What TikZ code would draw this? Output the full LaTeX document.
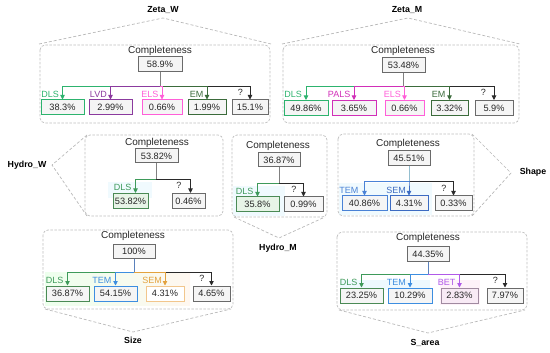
\documentclass[tikz,border=0pt]{standalone}
\usepackage{fontspec}
\setmainfont{Liberation Sans}
\usetikzlibrary{arrows.meta}
\definecolor{cDLS}{HTML}{2DB36E}
\definecolor{cDLSh}{HTML}{3E9A5A}
\definecolor{cDLSb}{HTML}{4A8A55}
\definecolor{cLVD}{HTML}{8B3A9E}
\definecolor{cELS}{HTML}{FF5FD8}
\definecolor{cEM}{HTML}{3B6B3B}
\definecolor{cPALS}{HTML}{D12FB8}
\definecolor{cTEM}{HTML}{4A82D6}
\definecolor{cSEM}{HTML}{3C6BC2}
\definecolor{cTEMs}{HTML}{3D8EE0}
\definecolor{cSEMo}{HTML}{E3A23E}
\definecolor{cSEMob}{HTML}{F2C68C}
\definecolor{cBET}{HTML}{B05AE8}
\definecolor{cBETb}{HTML}{A08AA0}
\definecolor{cQ}{HTML}{2A2A2A}
\definecolor{cQb}{HTML}{6A6A6A}
\definecolor{fGreen}{HTML}{E7F4E7}
\definecolor{fPink}{HTML}{F8EAF5}
\begin{document}
\begin{tikzpicture}[x=1pt,y=-1pt,
  panel/.style={draw=black!25, line width=0.7pt, dash pattern=on 2.5pt off 1.5pt, rounded corners=5pt},
  pointer/.style={draw=black!28, line width=0.7pt, dash pattern=on 3pt off 2pt},
  title/.style={font=\bfseries\fontsize{8.8}{10}\selectfont, inner sep=0},
  comp/.style={font=\fontsize{10}{12}\selectfont, text=black!85, inner sep=0},
  val/.style={draw=#1, fill=black!4, line width=1pt, minimum height=15pt, inner sep=0, font=\fontsize{9.2}{10}\selectfont, text=black!85},
  lab/.style={text=#1, font=\fontsize{9}{10}\selectfont, inner sep=0, anchor=base east},
  conn/.style={draw=#1, line width=0.9pt, -{Triangle[length=4.5pt,width=4.5pt]}},
  stem/.style={draw=black!50, line width=0.9pt}]
\useasboundingbox (0,0) rectangle (550,353);

% light highlights
\fill[cyan!6] (108,182) rectangle (152,198);
\fill[cyan!6] (233,186) rectangle (285,216);
\fill[cyan!6] (339,183) rectangle (432,215);
\shade[left color=green!7, middle color=cyan!8, right color=orange!6] (45,272) rectangle (190,305);
\fill[cyan!7] (340,280) rectangle (430,290);
\fill[magenta!5] (440,280) rectangle (480,305);

% ===== Zeta_W =====
\draw[panel] (40,45) rectangle (270,123);
\draw[pointer] (39,44) -- (163,18) -- (271,44);
\node[title] (tzw) at (163,10) {Zeta\_W};
\node[comp] (zwc) at (160,51) {Completeness};
\node[val=cQb, minimum width=44pt] (zw) at (160,64.5) {58.9\%};
\node[val=cDLS, minimum width=43pt] (zw1) at (62.5,107.5) {38.3\%};
\node[val=cLVD, minimum width=43pt] (zw2) at (110.5,107.5) {2.99\%};
\node[val=cELS, minimum width=40pt] (zw3) at (162,107.5) {0.66\%};
\node[val=cEM, minimum width=38pt] (zw4) at (207,107.5) {1.99\%};
\node[val=cQb, minimum width=36pt] (zw5) at (250,107.5) {15.1\%};
\coordinate (zwb) at (0,86);
\draw[conn=cDLS] (zw.south) |- (zw1.north |- zwb) -- (zw1.north);
\draw[conn=cQ] (zw.south) |- (zw5.north |- zwb) -- (zw5.north);
\draw[conn=cLVD] (zw.south) |- (zw2.north |- zwb) -- (zw2.north);
\draw[conn=cEM] (zw.south) |- (zw4.north |- zwb) -- (zw4.north);
\draw[conn=cELS] (zw.south) |- (zw3.north |- zwb) -- (zw3.north);
\draw[stem] (zw.south) -- (zw.south |- zwb);
\node[lab=cDLS] (zw1l) at ([xshift=-3.5pt,yshift=2pt]zw1.north) {DLS};
\node[lab=cLVD] (zw2l) at ([xshift=-3.5pt,yshift=2pt]zw2.north) {LVD};
\node[lab=cELS] (zw3l) at ([xshift=-3.5pt,yshift=2pt]zw3.north) {ELS};
\node[lab=cEM] (zw4l) at ([xshift=-3.5pt,yshift=2pt]zw4.north) {EM};
\node[lab=cQ] (zw5l) at ([xshift=-7pt,yshift=4pt]zw5.north) {?};

% ===== Zeta_M =====
\draw[panel] (283,45) rectangle (519,123);
\draw[pointer] (282,44) -- (408,18) -- (520,44);
\node[title] (tzm) at (407,10) {Zeta\_M};
\node[comp] (zmc) at (403,51) {Completeness};
\node[val=cQb, minimum width=43pt] (zm) at (403.5,65) {53.48\%};
\node[val=cDLS, minimum width=44pt] (zm1) at (306,108) {49.86\%};
\node[val=cPALS, minimum width=44pt] (zm2) at (354,108) {3.65\%};
\node[val=cELS, minimum width=39pt] (zm3) at (404.5,108) {0.66\%};
\node[val=cEM, minimum width=37pt] (zm4) at (449.5,108) {3.32\%};
\node[val=cQb, minimum width=38pt] (zm5) at (494,108) {5.9\%};
\coordinate (zmb) at (0,86);
\draw[conn=cDLS] (zm.south) |- (zm1.north |- zmb) -- (zm1.north);
\draw[conn=cQ] (zm.south) |- (zm5.north |- zmb) -- (zm5.north);
\draw[conn=cPALS] (zm.south) |- (zm2.north |- zmb) -- (zm2.north);
\draw[conn=cEM] (zm.south) |- (zm4.north |- zmb) -- (zm4.north);
\draw[conn=cELS] (zm.south) |- (zm3.north |- zmb) -- (zm3.north);
\draw[stem] (zm.south) -- (zm.south |- zmb);
\node[lab=cDLS] (zm1l) at ([xshift=-4pt,yshift=2pt]zm1.north) {DLS};
\node[lab=cPALS] (zm2l) at ([xshift=-3.5pt,yshift=2pt]zm2.north) {PALS};
\node[lab=cELS] (zm3l) at ([xshift=-3.5pt,yshift=2pt]zm3.north) {ELS};
\node[lab=cEM] (zm4l) at ([xshift=-4pt,yshift=2pt]zm4.north) {EM};
\node[lab=cQ] (zm5l) at ([xshift=-8pt,yshift=4pt]zm5.north) {?};

% ===== Hydro_W =====
\draw[panel] (85,135) rectangle (223,216);
\draw[pointer] (87,135) -- (52,165) -- (87,216);
\node[title] (thw) at (27,165) {Hydro\_W};
\node[comp] (hwc) at (157,143) {Completeness};
\node[val=cQb, minimum width=43pt, minimum height=14pt] (hw) at (156.5,156) {53.82\%};
\node[val=cDLSb, fill=fGreen, minimum width=35pt] (hw1) at (130.5,201) {53.82\%};
\node[val=cQb, minimum width=33pt] (hw2) at (188.5,201) {0.46\%};
\coordinate (hwb) at (0,179);
\draw[conn=cDLSh] (hw.south) |- ([xshift=5pt]hw1.north |- hwb) -- ([xshift=5pt]hw1.north);
\draw[conn=cQ] (hw.south) |- ([xshift=2pt]hw2.north |- hwb) -- ([xshift=2pt]hw2.north);
\draw[stem] (hw.south) -- (hw.south |- hwb);
\node[lab=cDLSh] (hw1l) at ([xshift=1pt,yshift=2pt]hw1.north) {DLS};
\node[lab=cQ] (hw2l) at ([xshift=-7pt,yshift=4pt]hw2.north) {?};

% ===== Hydro_M =====
\draw[panel] (232,135) rectangle (327,217);
\draw[pointer] (234,217) -- (279,238) -- (325,217);
\node[title] (thm) at (278,248) {Hydro\_M};
\node[comp] (hmc) at (278,146) {Completeness};
\node[val=cQb, minimum width=42pt, minimum height=14pt] (hm) at (279,160) {36.87\%};
\node[val=cDLSb, fill=fGreen, minimum width=43pt] (hm1) at (257.5,204.5) {35.8\%};
\node[val=cQb, minimum width=39pt] (hm2) at (303.5,204.5) {0.99\%};
\coordinate (hmb) at (0,183);
\draw[conn=cDLSh] (hm.south) |- (hm1.north |- hmb) -- (hm1.north);
\draw[conn=cQ] (hm.south) |- (hm2.north |- hmb) -- (hm2.north);
\draw[stem] (hm.south) -- (hm.south |- hmb);
\node[lab=cDLSh] (hm1l) at ([xshift=-4pt,yshift=2pt]hm1.north) {DLS};
\node[lab=cQ] (hm2l) at ([xshift=-7pt,yshift=4pt]hm2.north) {?};

% ===== Shape =====
\draw[panel] (338,134) rectangle (474,216);
\draw[pointer] (472,134) -- (511,173) -- (472,216);
\node[title] (tsh) at (533,172) {Shape};
\node[comp] (shc) at (408,144) {Completeness};
\node[val=cQb, minimum width=42pt] (sh) at (409,158.5) {45.51\%};
\node[val=cTEM, minimum width=45pt] (sh1) at (364.5,203.5) {40.86\%};
\node[val=cSEM, minimum width=38pt] (sh2) at (409,203.5) {4.31\%};
\node[val=cQb, minimum width=37pt] (sh3) at (453.5,203.5) {0.33\%};
\coordinate (shb) at (0,181);
\draw[conn=cQ] (sh.south) |- (sh3.north |- shb) -- (sh3.north);
\draw[conn=cTEM] (sh.south) |- (sh1.north |- shb) -- (sh1.north);
\draw[conn=cSEM] (sh.south) |- (sh2.north |- shb) -- (sh2.north);
\draw[stem, draw=cyan!60!black!50] (sh.south) -- (sh.south |- shb);
\node[lab=cTEM] (sh1l) at ([xshift=-6pt,yshift=2pt]sh1.north) {TEM};
\node[lab=cSEM] (sh2l) at ([xshift=-3pt,yshift=2pt]sh2.north) {SEM};
\node[lab=cQ] (sh3l) at ([xshift=-7pt,yshift=4pt]sh3.north) {?};

% ===== Size =====
\draw[panel] (43,230) rectangle (233,309);
\draw[pointer] (45,309) -- (133,332) -- (231,309);
\node[title] (tsz) at (133,340) {Size};
\node[comp] (szc) at (133,236) {Completeness};
\node[val=cQb, minimum width=42pt, minimum height=14pt] (sz) at (134,251.5) {100\%};
\node[val=cDLSb, minimum width=43pt] (sz1) at (67.5,293.5) {36.87\%};
\node[val=cTEMs, minimum width=43pt] (sz2) at (115.5,293.5) {54.15\%};
\node[val=cSEMob, fill=white, minimum width=38pt] (sz3) at (165,293.5) {4.31\%};
\node[val=cQb, minimum width=37pt] (sz4) at (211.5,293.5) {4.65\%};
\coordinate (szb) at (0,272);
\draw[conn=cDLSh] (sz.south) |- (sz1.north |- szb) -- (sz1.north);
\draw[conn=cQ] (sz.south) |- (sz4.north |- szb) -- (sz4.north);
\draw[conn=cTEMs] (sz.south) |- (sz2.north |- szb) -- (sz2.north);
\draw[conn=cSEMo] (sz.south) |- (sz3.north |- szb) -- (sz3.north);
\draw[stem, draw=cTEM!70!gray] (sz.south) -- (sz.south |- szb);
\node[lab=cDLSh] (sz1l) at ([xshift=-4pt,yshift=2pt]sz1.north) {DLS};
\node[lab=cTEMs] (sz2l) at ([xshift=-4pt,yshift=2pt]sz2.north) {TEM};
\node[lab=cSEMo] (sz3l) at ([xshift=-3pt,yshift=2pt]sz3.north) {SEM};
\node[lab=cQ] (sz4l) at ([xshift=-7pt,yshift=4pt]sz4.north) {?};

% ===== S_area =====
\draw[panel] (337,232) rectangle (527,310);
\draw[pointer] (339,310) -- (428,333) -- (525,310);
\node[title] (tsa) at (425,343) {S\_area};
\node[comp] (sac) at (428,238) {Completeness};
\node[val=cQb, minimum width=42pt] (sa) at (428,254) {44.35\%};
\node[val=cDLSb, minimum width=43pt] (sa1) at (361.5,295.5) {23.25\%};
\node[val=cTEMs, minimum width=44pt] (sa2) at (410,295.5) {10.29\%};
\node[val=cBETb, fill=fPink, minimum width=37pt] (sa3) at (459.5,295.5) {2.83\%};
\node[val=cQb, minimum width=36pt] (sa4) at (505,295.5) {7.97\%};
\coordinate (sab) at (0,274);
\draw[conn=cDLSh] (sa.south) |- (sa1.north |- sab) -- (sa1.north);
\draw[conn=cQ] (sa.south) |- (sa4.north |- sab) -- (sa4.north);
\draw[conn=cTEMs] (sa.south) |- (sa2.north |- sab) -- (sa2.north);
\draw[conn=cBET] (sa.south) |- (sa3.north |- sab) -- (sa3.north);
\draw[stem, draw=cTEM!70!gray] (sa.south) -- (sa.south |- sab);
\node[lab=cDLSh] (sa1l) at ([xshift=-4pt,yshift=2pt]sa1.north) {DLS};
\node[lab=cTEMs] (sa2l) at ([xshift=-4pt,yshift=2pt]sa2.north) {TEM};
\node[lab=cBET] (sa3l) at ([xshift=-4pt,yshift=2pt]sa3.north) {BET};
\node[lab=cQ] (sa4l) at ([xshift=-7pt,yshift=4pt]sa4.north) {?};
\end{tikzpicture}
\end{document}
